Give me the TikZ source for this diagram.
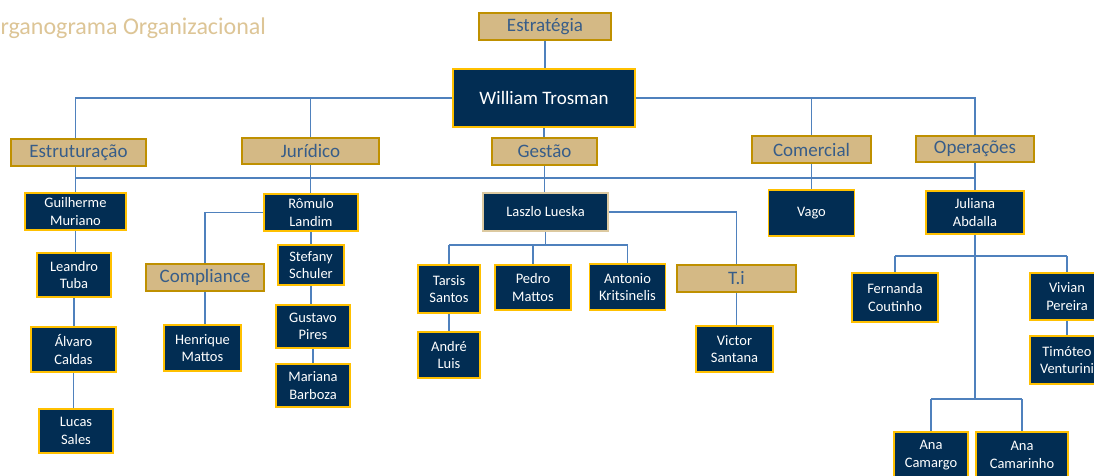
\documentclass[tikz,border=0pt]{standalone}
\usepackage{fontspec}
\setmainfont{Carlito}
\definecolor{navy}{HTML}{022D53}
\definecolor{gold}{HTML}{FFC000}
\definecolor{tanfill}{HTML}{D4B985}
\definecolor{tanborder}{HTML}{BF9000}
\definecolor{tantext}{HTML}{375D89}
\definecolor{lineblue}{HTML}{4F81BD}
\definecolor{titlecol}{HTML}{DDC596}
\definecolor{lighttan}{HTML}{DCC9A0}
\tikzset{
  tanbox/.style={fill=tanfill, draw=tanborder, line width=1.5pt, text=tantext,
    font=\fontsize{19}{22}\selectfont, inner sep=0pt, align=center},
  namebox/.style={fill=navy, draw=gold, line width=1.5pt, text=white,
    font=\fontsize{14.5}{17.5}\selectfont, inner sep=0pt, align=center},
  conn/.style={draw=lineblue, line width=1.5pt},
  wh/.style 2 args={minimum width=#1pt, minimum height=#2pt}
}
\begin{document}
\begin{tikzpicture}[x=1pt, y=-1pt]
\useasboundingbox (0,0) rectangle (1094,475);
\fill[white] (0,0) rectangle (1094,475);

\node[anchor=base west, text=titlecol, font=\fontsize{24}{28}\selectfont, inner sep=0pt] (title) at (-15.5,34) {Organograma Organizacional};

% coordinates for buses
\coordinate (hb) at (0,178);
\coordinate (gb) at (0,245);
\coordinate (jb1) at (0,256);
\coordinate (jb2) at (0,399);

% connectors first (drawn beneath boxes)
\begin{scope}[on background layer/.style={}]
\end{scope}

% top level
\node[tanbox, wh={132}{27}] (strat) at (545,26.5) {Estratégia};
\node[namebox, wh={182}{58}, font=\fontsize{19}{22}\selectfont] (william) at (544,98) {William Trosman};

\node[tanbox, wh={135}{27}] (estr) at (78.5,152.5) {Estruturação};
\node[tanbox, wh={137}{26}] (jur) at (310.5,151) {Jurídico};
\node[tanbox, wh={105}{27}] (gest) at (544.5,151.5) {Gestão};
\node[tanbox, wh={119}{27}] (com) at (811.5,149.5) {Comercial};
\node[tanbox, wh={118}{26}] (oper) at (975,149) {Operações};

% Estruturação column
\node[namebox, wh={101}{37}] (guil) at (75.5,211.5) {Guilherme\\Muriano};
\node[namebox, wh={74}{44}] (lean) at (74,275) {Leandro\\Tuba};
\node[namebox, wh={85}{45}] (alv) at (73.5,349.5) {Álvaro\\Caldas};
\node[namebox, wh={74}{44}] (luc) at (76,431) {Lucas\\Sales};

% Jurídico column
\node[namebox, wh={94}{37}] (rom) at (311,212.5) {Rômulo\\Landim};
\node[namebox, wh={66}{40}] (stef) at (311,265) {Stefany\\Schuler};
\node[namebox, wh={74}{43}] (gus) at (313,326.5) {Gustavo\\Pires};
\node[namebox, wh={74}{43}] (mar) at (313,385.5) {Mariana\\Barboza};
\node[tanbox, wh={118}{27}] (compl) at (205,277.5) {Compliance};
\node[namebox, wh={77}{46}] (henr) at (202.5,348) {Henrique\\Mattos};

% Gestão column
\node[namebox, draw=lighttan, wh={125}{38}] (lasz) at (545.5,212) {Laszlo Lueska};
\node[namebox, wh={62}{48}] (tars) at (449,289) {Tarsis\\Santos};
\node[namebox, wh={76}{45}] (pedro) at (533,287.5) {Pedro\\Mattos};
\node[namebox, wh={76}{46}] (anto) at (627.5,287) {Antonio\\Kritsinelis};
\node[namebox, wh={62}{46}] (andre) at (449,355) {André\\Luis};
\node[tanbox, wh={119}{27}] (ti) at (736.5,278.5) {T.i};
\node[namebox, wh={77}{46}] (vict) at (734.5,349) {Victor\\Santana};

% Comercial
\node[namebox, wh={86}{46}] (vago) at (811.5,213) {Vago};

% Operações
\node[namebox, wh={98}{43}] (jul) at (975,212.5) {Juliana\\Abdalla};
\node[namebox, wh={86}{49}] (fern) at (895,297.5) {Fernanda\\Coutinho};
\node[namebox, wh={74}{47}] (viv) at (1067,296.5) {Vivian\\Pereira};
\node[namebox, wh={74}{48}] (tim) at (1067,360) {Timóteo\\Venturini};
\node[namebox, wh={74}{46}] (anacg) at (931,455) {Ana\\Camargo};
\node[namebox, wh={92}{46}] (anacr) at (1022,455) {Ana\\Camarinho};

% connectors
\draw[conn] (strat.south) -- (strat.south |- william.north);
\draw[conn] (william.west) -| (guil.north |- estr.north);
\draw[conn] (william.west -| jur.north) -- (jur.north);
\draw[conn] (william.east) -| (oper.north);
\draw[conn] (william.east -| com.north) -- (com.north);
\draw[conn] (william.south) -- (william.south |- gest.north);
\draw[conn] (gest.south) -- (gest.south |- lasz.north);

\draw[conn] (guil.north |- hb) -- (jul.north |- hb);
\draw[conn] (guil.north |- estr.south) -- (guil.north);
\draw[conn] (jur.south) -- (jur.south |- rom.north);
\draw[conn] (com.south) -- (com.south |- vago.north);
\draw[conn] (oper.south) -- (jul.north);

\draw[conn] (guil.south) -- (guil.south |- lean.north);
\draw[conn] (lean.south) -- (lean.south |- alv.north);
\draw[conn] (alv.south) -- (alv.south |- luc.north);

\draw[conn] (rom.south) -- (rom.south |- stef.north);
\draw[conn] (stef.south) -- (stef.south |- gus.north);
\draw[conn] (gus.south) -- (gus.south |- mar.north);
\draw[conn] (rom.west) -| (compl.north);
\draw[conn] (compl.south) -- (compl.south |- henr.north);

\draw[conn] (lasz.south) -- (lasz.south |- gb);
\draw[conn] (tars.north |- gb) -- (anto.north |- gb);
\draw[conn] (tars.north |- gb) -- (tars.north);
\draw[conn] (pedro.north |- gb) -- (pedro.north);
\draw[conn] (anto.north |- gb) -- (anto.north);
\draw[conn] (tars.south) -- (andre.north);
\draw[conn] (lasz.east) -| (ti.north);
\draw[conn] (ti.south) -- (ti.south |- vict.north);

\draw[conn] (jul.south) -- (jul.south |- jb2);
\draw[conn] (fern.north |- jb1) -- (viv.north |- jb1);
\draw[conn] (fern.north |- jb1) -- (fern.north);
\draw[conn] (viv.north |- jb1) -- (viv.north);
\draw[conn] (anacg.north |- jb2) -- (anacr.north |- jb2);
\draw[conn] (anacg.north |- jb2) -- (anacg.north);
\draw[conn] (anacr.north |- jb2) -- (anacr.north);
\draw[conn] (viv.south) -- (tim.north);
\end{tikzpicture}
\end{document}
